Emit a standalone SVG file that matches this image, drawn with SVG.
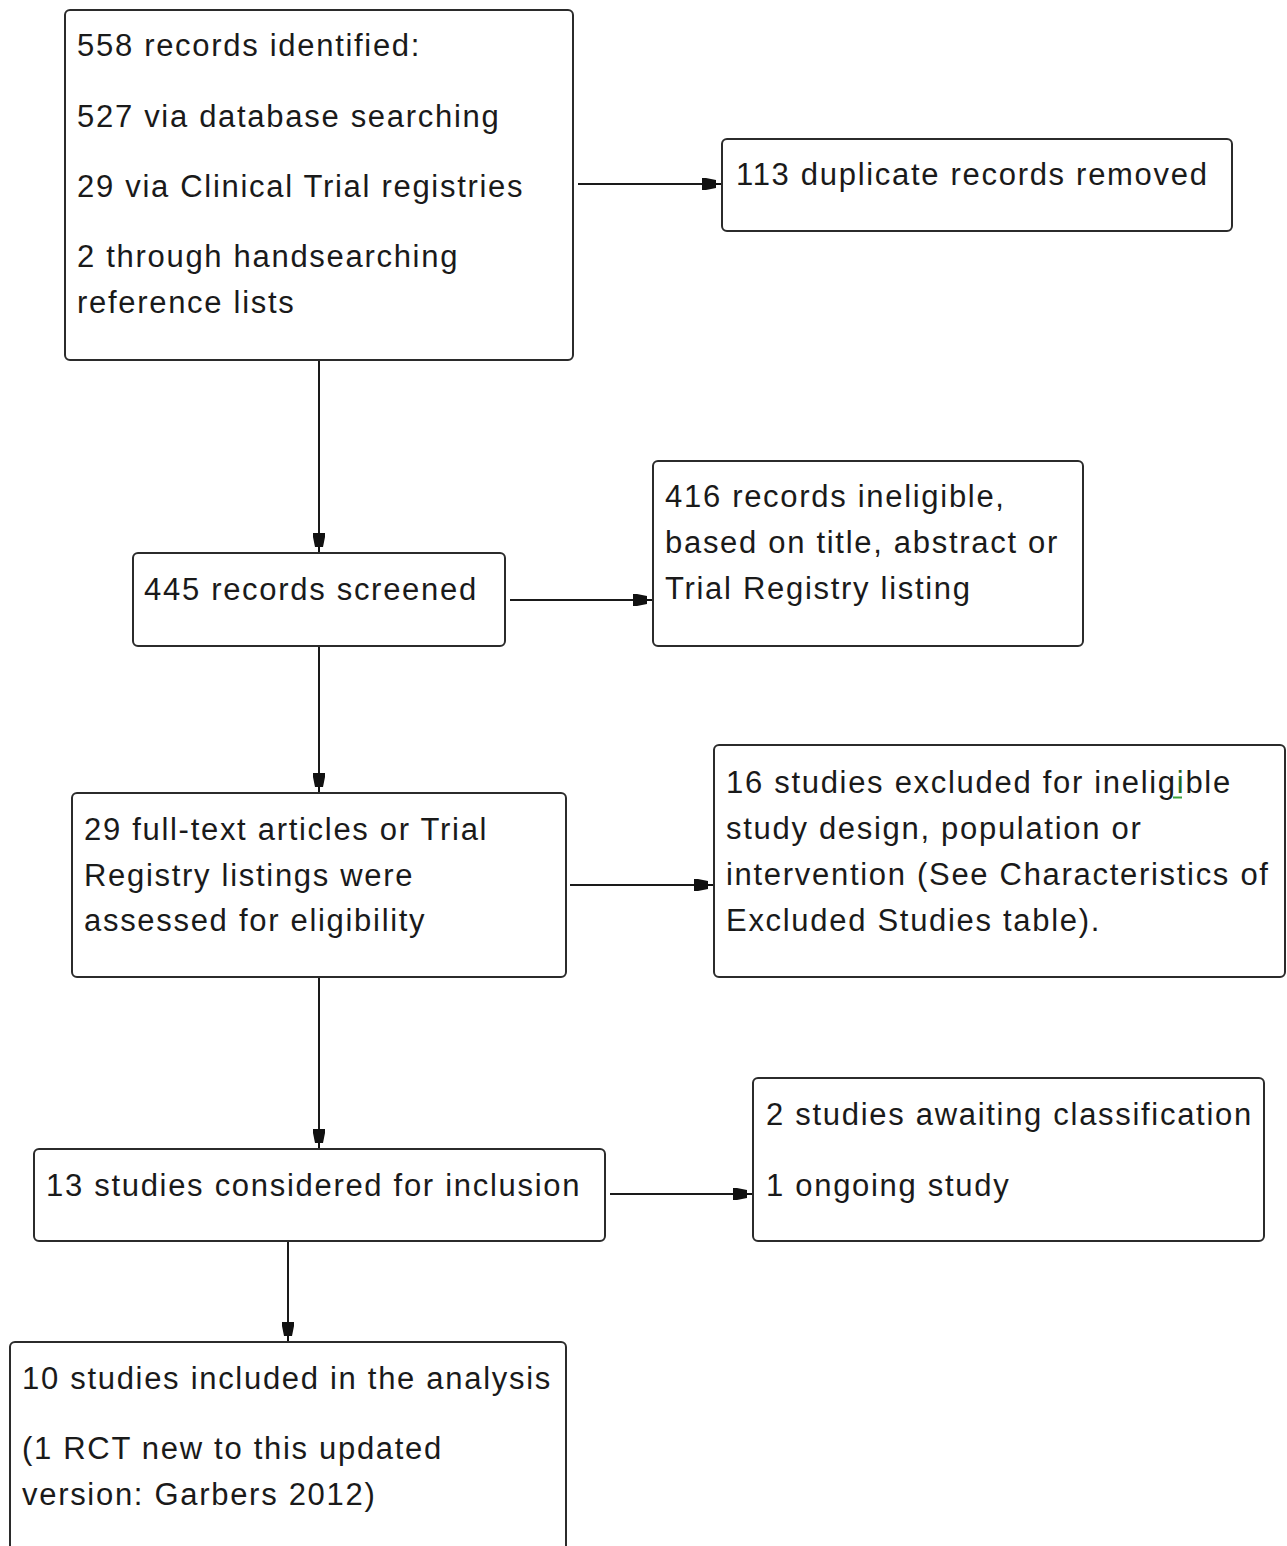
<svg xmlns="http://www.w3.org/2000/svg" width="1287" height="1546" viewBox="0 0 1287 1546">
<style>
.box{fill:#fff;stroke:#2b2b2b;stroke-width:2}
.t{font-family:"Liberation Sans",Arial,sans-serif;font-size:31px;letter-spacing:1.7px;fill:#1a1a1a}
.c{stroke:#1a1a1a;stroke-width:2;fill:none;marker-end:url(#ah)}
</style>
<defs>
<marker id="ah" markerUnits="userSpaceOnUse" markerWidth="24" markerHeight="16" viewBox="-22 -8 24 16" refX="0" refY="0" orient="auto">
<path d="M-20,-6 L-16,-6 L-6,-4 L-6,-1 L0,-1 L0,1 L-6,1 L-6,4 L-16,6 L-20,6 Z" fill="#111"/>
</marker>
</defs>
<rect width="1287" height="1546" fill="#fff"/>
<g id="connectors">
<path class="c" d="M578,184 H722"/>
<path class="c" d="M319,360 V553"/>
<path class="c" d="M510,600 H653"/>
<path class="c" d="M319,646 V793"/>
<path class="c" d="M570,885 H714"/>
<path class="c" d="M319,977 V1149"/>
<path class="c" d="M610,1194 H753"/>
<path class="c" d="M288,1241 V1342"/>
</g>
<g id="n-identified">
<rect class="box" x="65" y="10" width="508" height="350" rx="5"/>
<text class="t" x="77" y="56">558 records identified:</text>
<text class="t" x="77" y="127">527 via database searching</text>
<text class="t" x="77" y="197">29 via Clinical Trial registries</text>
<text class="t" x="77" y="267">2 through handsearching</text>
<text class="t" x="77" y="313">reference lists</text>
</g>
<g id="n-duplicates">
<rect class="box" x="722" y="139" width="510" height="92" rx="5"/>
<text class="t" x="736" y="185">113 duplicate records removed</text>
</g>
<g id="n-screened">
<rect class="box" x="133" y="553" width="372" height="93" rx="5"/>
<text class="t" x="144" y="600">445 records screened</text>
</g>
<g id="n-ineligible">
<rect class="box" x="653" y="461" width="430" height="185" rx="5"/>
<text class="t" x="665" y="507">416 records ineligible,</text>
<text class="t" x="665" y="553">based on title, abstract or</text>
<text class="t" x="665" y="599">Trial Registry listing</text>
</g>
<g id="n-fulltext">
<rect class="box" x="72" y="793" width="494" height="184" rx="5"/>
<text class="t" x="84" y="840">29 full-text articles or Trial</text>
<text class="t" x="84" y="886">Registry listings were</text>
<text class="t" x="84" y="931">assessed for eligibility</text>
</g>
<g id="n-excluded">
<rect class="box" x="714" y="745" width="571" height="232" rx="5"/>
<text class="t" x="726" y="793">16 studies excluded for inelig<tspan fill="#1d6b1d">i</tspan>ble</text>
<line x1="1173" y1="797.5" x2="1182" y2="797.5" stroke="#3aa33a" stroke-width="2"/>
<text class="t" x="726" y="839">study design, population or</text>
<text class="t" x="726" y="885">intervention (See Characteristics of</text>
<text class="t" x="726" y="931">Excluded Studies table).</text>
</g>
<g id="n-considered">
<rect class="box" x="34" y="1149" width="571" height="92" rx="5"/>
<text class="t" x="46" y="1196">13 studies considered for inclusion</text>
</g>
<g id="n-awaiting">
<rect class="box" x="753" y="1078" width="511" height="163" rx="5"/>
<text class="t" x="766" y="1125">2 studies awaiting classification</text>
<text class="t" x="766" y="1196">1 ongoing study</text>
</g>
<g id="n-included">
<rect class="box" x="10" y="1342" width="556" height="230" rx="5"/>
<text class="t" x="22" y="1389">10 studies included in the analysis</text>
<text class="t" x="22" y="1459">(1 RCT new to this updated</text>
<text class="t" x="22" y="1505">version: Garbers 2012)</text>
</g>
</svg>
